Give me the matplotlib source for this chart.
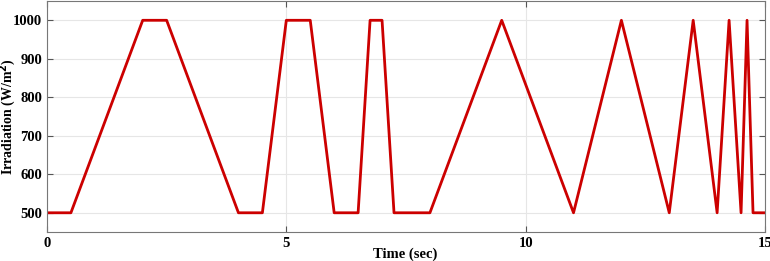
import matplotlib.pyplot as plt

# irradiation profile breakpoints (time in sec, irradiation in W/m^2)
time = [0, 0.5, 2.0, 2.5, 4.0, 4.5, 5.0, 5.5, 6.0, 6.5, 6.75, 7.0, 7.25, 8.0,
        9.5, 11.0, 12.0, 13.0, 13.5, 14.0, 14.25, 14.5, 14.625, 14.75, 15.0]
irradiation = [500, 500, 1000, 1000, 500, 500, 1000, 1000, 500, 500, 1000, 1000, 500, 500,
               1000, 500, 1000, 500, 1000, 500, 1000, 500, 1000, 500, 500]

xticks = [0, 5, 10, 15]
yticks = [500, 600, 700, 800, 900, 1000]

plt.rcParams['font.family'] = ['Liberation Serif', 'DejaVu Serif']
plt.rcParams['font.weight'] = 'bold'

fig = plt.figure(figsize=(7.7, 2.61), dpi=100)
ax = fig.add_axes([0.061, 0.111, 0.9325, 0.885])

ax.plot(time, irradiation, color='#cc0000', lw=2)

ax.set_xlim(0, 15)
ax.set_ylim(450, 1050)
ax.set_xticks(xticks)
ax.set_yticks(yticks)
ax.grid(True, color='#e6e6e6', lw=0.8)
ax.tick_params(direction='in', top=True, right=True, labelsize=10.5, length=4, color='#555555')
for s in ax.spines.values():
    s.set_color('#777777')

ax.set_xlabel('Time (sec)', fontsize=10.5, fontweight='bold')
ax.set_ylabel('Irradiation (W/m$^\\mathbf{2}$)', fontsize=10, fontweight='bold',
              va='center')
ax.xaxis.set_label_coords(0.499, -0.065)
ax.yaxis.set_label_coords(-0.0555, 0.5)

fig.savefig('out.png', dpi=100)
